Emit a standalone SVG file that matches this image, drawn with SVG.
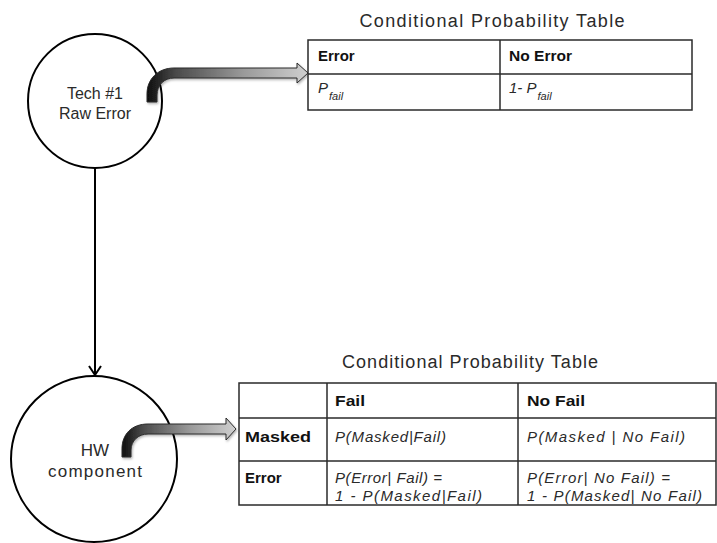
<svg xmlns="http://www.w3.org/2000/svg" width="717" height="543" viewBox="0 0 717 543">
  <style>
    .node { fill: #ffffff; stroke: #000000; stroke-width: 2; }
    .lbl { font-family: "Liberation Sans", Arial, sans-serif; fill: #2a2a2a; text-anchor: middle; }
    .title { font-family: "Liberation Sans", Arial, sans-serif; font-size: 18px; fill: #2a2a2a; text-anchor: middle; }
    .grid { fill: #ffffff; stroke: #2a2a2a; stroke-width: 1.5; }
    .rule { stroke: #2a2a2a; stroke-width: 1.5; fill: none; }
    .hd { font-family: "Liberation Sans", Arial, sans-serif; font-size: 15px; font-weight: bold; fill: #111111; }
    .it { font-family: "Liberation Sans", Arial, sans-serif; font-size: 15px; font-style: italic; fill: #2a2a2a; }
    .sub { font-size: 11px; }
    .edge { stroke: #000000; stroke-width: 2; fill: none; }
    .bend { fill: url(#bendFill); stroke: #2b2b2b; stroke-width: 1; filter: url(#soft); }
  </style>
  <defs>
    <linearGradient id="bendFill" x1="0" y1="0" x2="1" y2="0">
      <stop offset="0" stop-color="#0e0e0e"/>
      <stop offset="0.18" stop-color="#4a4a4a"/>
      <stop offset="0.6" stop-color="#9a9a9a"/>
      <stop offset="1" stop-color="#cfcfcf"/>
    </linearGradient>
    <filter id="soft" x="-10%" y="-20%" width="130%" height="150%">
      <feDropShadow dx="1" dy="1.5" stdDeviation="1.2" flood-color="#000000" flood-opacity="0.3"/>
    </filter>
  </defs>

  <g id="connectors">
    <line class="edge" x1="95" y1="168" x2="95" y2="375"/>
    <path d="M89,366 L95,375 L101,366" fill="none" stroke="#000000" stroke-width="2"/>
  </g>

  <!-- Tech #1 raw error node -->
  <g id="tech1">
    <circle class="node" cx="95" cy="101" r="67"/>
    <text class="lbl" x="95" y="99" font-size="16">Tech #1</text>
    <text class="lbl" x="95" y="119" font-size="16">Raw Error</text>
  </g>

  <!-- HW component node -->
  <g id="hw">
    <circle class="node" cx="94" cy="459" r="83"/>
    <text class="lbl" x="95" y="456" font-size="17">HW</text>
    <text class="lbl" x="95" y="477" font-size="17" textLength="94">component</text>
  </g>

  <!-- bent block arrows pointing at the tables -->
  <g id="bend-top">
    <path class="bend" d="M147,102 V94 C147,79 158,68 174,68 H297 V63 L308,73 L297,83 V78 H174 C164,78 157,85 157,95 V102 Z"/>
  </g>
  <g id="bend-bottom">
    <path class="bend" d="M122,457 V449 C122,434 132,424 148,424 H226 V418 L236,429 L226,440 V434 H148 C138,434 131,441 131,450 V457 Z"/>
  </g>

  <!-- Table for the raw error node -->
  <g id="cpt-tech1">
    <text class="title" x="492" y="27" textLength="265">Conditional Probability Table</text>
    <rect class="grid" x="308" y="40" width="384" height="70"/>
    <line class="rule" x1="308" y1="74" x2="692" y2="74"/>
    <line class="rule" x1="500" y1="40" x2="500" y2="110"/>
    <text class="hd" x="318" y="61">Error</text>
    <text class="hd" x="509" y="61" textLength="63" lengthAdjust="spacingAndGlyphs">No Error</text>
    <text class="it" x="318" y="93" font-size="16">P<tspan class="sub" dx="1" dy="7">fail</tspan></text>
    <text class="it" x="509" y="93" font-size="16">1- P<tspan class="sub" dx="1" dy="7">fail</tspan></text>
  </g>

  <!-- Table for the HW component node -->
  <g id="cpt-hw">
    <text class="title" x="470" y="368" textLength="256">Conditional Probability Table</text>
    <rect class="grid" x="239" y="383" width="477" height="122"/>
    <line class="rule" x1="239" y1="418" x2="716" y2="418"/>
    <line class="rule" x1="239" y1="461" x2="716" y2="461"/>
    <line class="rule" x1="327" y1="383" x2="327" y2="505"/>
    <line class="rule" x1="518" y1="383" x2="518" y2="505"/>
    <text class="hd" x="335" y="406" textLength="30" lengthAdjust="spacingAndGlyphs">Fail</text>
    <text class="hd" x="527" y="406" textLength="58" lengthAdjust="spacingAndGlyphs">No Fail</text>
    <text class="hd" x="245" y="442" textLength="66" lengthAdjust="spacingAndGlyphs">Masked</text>
    <text class="hd" x="245" y="483">Error</text>
    <text class="it" x="335" y="442" textLength="111">P(Masked|Fail)</text>
    <text class="it" x="527" y="442" textLength="158">P(Masked | No Fail)</text>
    <text class="it" x="335" y="483" textLength="107">P(Error| Fail) =</text>
    <text class="it" x="335" y="501" textLength="147">1 - P(Masked|Fail)</text>
    <text class="it" x="527" y="483" textLength="143">P(Error| No Fail) =</text>
    <text class="it" x="527" y="501" textLength="175">1 - P(Masked| No Fail)</text>
  </g>
</svg>
